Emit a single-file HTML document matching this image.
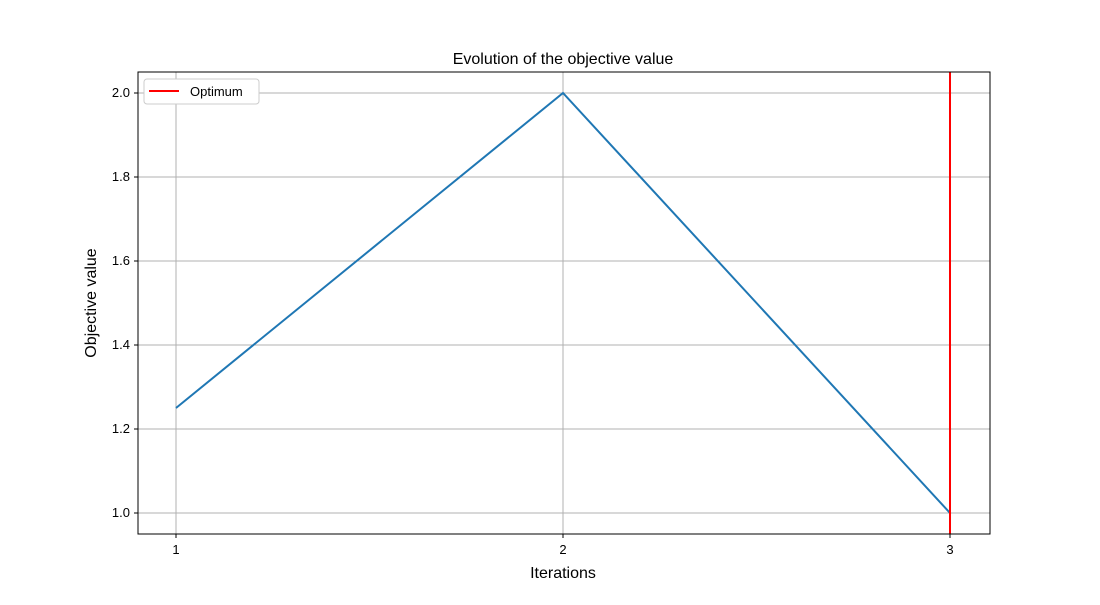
<!DOCTYPE html>
<html><head><meta charset="utf-8"><style>
body{margin:0;background:#fff;font-family:"Liberation Sans","DejaVu Sans",sans-serif}
</style></head><body>
<svg id="chart" width="1100" height="600" xmlns="http://www.w3.org/2000/svg">
<rect width="1100" height="600" fill="#fff"/>
<g id="grid"></g>
<g id="ticks"></g>
<polyline id="series" fill="none" stroke="#1f77b4" stroke-width="2"/>
<line id="opt" stroke="red" stroke-width="2"/>
<rect x="138" y="72" width="852" height="462" fill="none" stroke="#000" stroke-width="1"/>
<text x="563" y="64" font-size="16" text-anchor="middle">Evolution of the objective value</text>
<text x="563" y="578" font-size="16" text-anchor="middle">Iterations</text>
<text transform="translate(96,303) rotate(-90)" font-size="16" text-anchor="middle">Objective value</text>
<g>
<rect x="144" y="79" width="115" height="25" rx="3" fill="#fff" stroke="#ccc"/>
<line x1="149" y1="91" x2="179" y2="91" stroke="red" stroke-width="2"/>
<text x="190" y="96" font-size="13">Optimum</text>
</g>
</svg>
<script>
const iterations=[1,2,3];
const values=[1.25,2.0,1.0];
const optimum=3;
const yTicks=[1.0,1.2,1.4,1.6,1.8,2.0];
const xTicks=[1,2,3];
const X=v=>176+(v-1)*387;
const Y=v=>513-(v-1)*420;
const ns="http://www.w3.org/2000/svg";
const grid=document.getElementById('grid'),ticks=document.getElementById('ticks');
function mk(tag,attrs,parent){const e=document.createElementNS(ns,tag);for(const k in attrs)e.setAttribute(k,attrs[k]);parent.appendChild(e);return e;}
yTicks.forEach(t=>{
 const g=mk('line',{x1:138,x2:990,y1:Y(t),y2:Y(t),stroke:'#b0b0b0','stroke-width':1},grid);
 
 
 mk('line',{x1:134,x2:138,y1:Y(t),y2:Y(t),stroke:'#000'},ticks);
 const l=mk('text',{x:130,y:Y(t)+4,'font-size':13,'text-anchor':'end'},ticks);
 l.textContent=t.toFixed(1);
 
 
});
xTicks.forEach(t=>{
 const g=mk('line',{x1:X(t),x2:X(t),y1:72,y2:534,stroke:'#b0b0b0','stroke-width':1},grid);
 
 
 mk('line',{x1:X(t),x2:X(t),y1:534,y2:538,stroke:'#000'},ticks);
 const l=mk('text',{x:X(t),y:554,'font-size':13,'text-anchor':'middle'},ticks);
 l.textContent=t;
 
 
});
document.getElementById('series').setAttribute('points',iterations.map((x,i)=>X(x)+','+Y(values[i])).join(' '));
const o=document.getElementById('opt');
o.setAttribute('x1',X(optimum));o.setAttribute('x2',X(optimum));o.setAttribute('y1',72);o.setAttribute('y2',534);
</script>
</body></html>
